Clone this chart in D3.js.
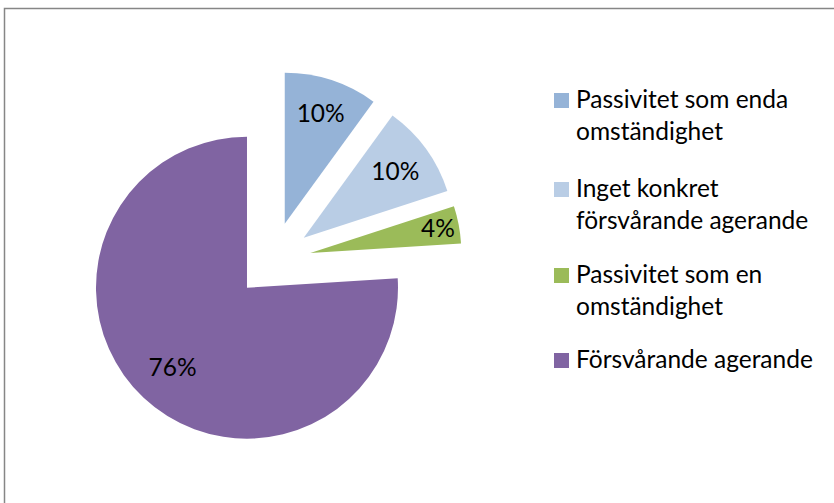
<!DOCTYPE html>
<html>
<head>
<meta charset="utf-8">
<script src="https://cdn.jsdelivr.net/npm/d3@7"></script>
<style>
  html, body { margin: 0; padding: 0; background: #ffffff; }
  svg { display: block; }
  text { font-family: Lato, "Open Sans", sans-serif; fill: #000; }
</style>
</head>
<body>
<svg id="chart" width="834" height="503"></svg>
<script>
// ---- data ----
const categories = [
  "Passivitet som enda omständighet",
  "Inget konkret försvårande agerande",
  "Passivitet som en omständighet",
  "Försvårande agerande"
];
const legendLines = [
  ["Passivitet som enda", "omständighet"],
  ["Inget konkret", "försvårande agerande"],
  ["Passivitet som en", "omständighet"],
  ["Försvårande agerande"]
];
const values = [10, 10, 4, 76];
const valueLabels = ["10%", "10%", "4%", "76%"];
const colors = ["#95B3D7", "#B9CDE5", "#9BBB59", "#8064A2"];

// ---- layout ----
const W = 834, H = 503;
const cx = 273, cy = 260, R = 151, explode = 38;
const labelFactor = [0.77, 0.75, 0.86, 0.72];
const fontSize = 24.5;

const svg = d3.select("#chart");

// chart border
svg.append("rect")
  .attr("x", 4.5).attr("y", 8.5)
  .attr("width", 900).attr("height", 600)
  .attr("fill", "none")
  .attr("stroke", "#868686")
  .attr("stroke-width", 1.5);

const pie = d3.pie().sort(null).value(d => d)(values);
const arc = d3.arc().innerRadius(0).outerRadius(R);

const g = svg.append("g").attr("transform", `translate(${cx},${cy})`);

pie.forEach((p, i) => {
  const mid = (p.startAngle + p.endAngle) / 2;
  const ox = explode * Math.sin(mid), oy = -explode * Math.cos(mid);
  const sg = g.append("g").attr("transform", `translate(${ox},${oy})`);
  sg.append("path").attr("d", arc(p)).attr("fill", colors[i]);
  const lr = R * labelFactor[i];
  sg.append("text")
    .attr("x", lr * Math.sin(mid))
    .attr("y", -lr * Math.cos(mid))
    .attr("text-anchor", "middle")
    .attr("dy", "0.36em")
    .style("font-size", fontSize + "px")
    .text(valueLabels[i]);
});

// legend
const legendX = 554, textX = 576;
const baselines = [108, 197, 283, 368];
const lineGap = 32;
const lg = svg.append("g");
legendLines.forEach((lines, i) => {
  lg.append("rect")
    .attr("x", legendX).attr("y", baselines[i] - 15)
    .attr("width", 15).attr("height", 15)
    .attr("fill", colors[i]);
  lines.forEach((t, j) => {
    lg.append("text")
      .attr("x", textX)
      .attr("y", baselines[i] + j * lineGap)
      .style("font-size", fontSize + "px")
      .text(t);
  });
});
</script>
</body>
</html>
